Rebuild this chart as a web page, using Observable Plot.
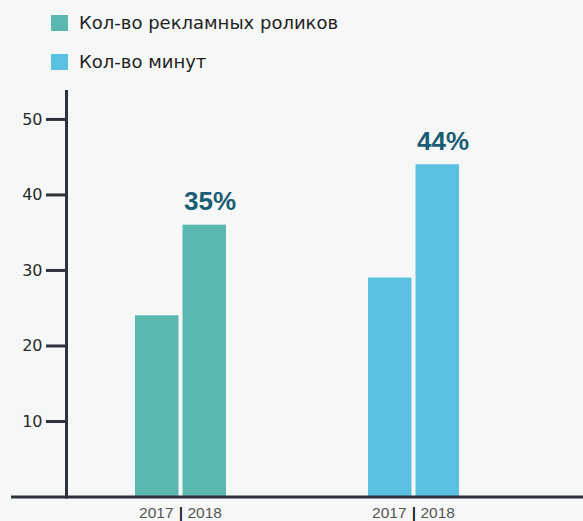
<!DOCTYPE html>
<html>
<head>
<meta charset="utf-8">
<script src="https://cdn.jsdelivr.net/npm/d3@7"></script>
<script src="https://cdn.jsdelivr.net/npm/@observablehq/plot@0.6"></script>
<style>
  html, body { margin: 0; padding: 0; background: #f6f8f7; width: 583px; height: 521px; overflow: hidden; }
  #legend { position: relative; height: 80px; font-family: "DejaVu Sans", sans-serif; font-size: 18px; color: #222; }
  .item { position: absolute; left: 51px; display: flex; align-items: center; }
  .sw { width: 17px; height: 16px; margin-right: 11px; }
  #chart svg { display: block; overflow: visible; }
</style>
</head>
<body>
<div id="legend"></div>
<div id="chart"></div>
<script>
const groups = ["Кол-во рекламных роликов", "Кол-во минут"];
const years = ["2017", "2018"];
const values2017 = [24, 29];
const values2018 = [36, 44];
const growthLabels = ["35%", "44%"];
const colors = ["#5bb8b1", "#5bc1e1"];
const yTicks = [10, 20, 30, 40, 50];

// legend
const legend = document.getElementById("legend");
groups.forEach((g, i) => {
  const it = document.createElement("div");
  it.className = "item";
  it.style.top = (i === 0 ? 12 : 51) + "px";
  const sw = document.createElement("div");
  sw.className = "sw";
  sw.style.background = colors[i];
  const tx = document.createElement("span");
  tx.textContent = g;
  it.appendChild(sw); it.appendChild(tx);
  legend.appendChild(it);
});

const rows = groups.map((g, i) => ({group: g, v2017: values2017[i], v2018: values2018[i], label: growthLabels[i]}));
const axisColor = "#2e3239";
const labelFont = "Liberation Sans, Arial, sans-serif";

const chart = Plot.plot({
  width: 583,
  height: 441,
  marginLeft: 66,
  marginRight: 54,
  marginTop: 11,
  marginBottom: 24.5,
  style: {background: "transparent", fontFamily: "DejaVu Sans, sans-serif"},
  x: {type: "band", domain: groups, paddingInner: 0.608, paddingOuter: 0.2955, axis: null},
  y: {domain: [0, 53.7], axis: null},
  color: {domain: groups, range: colors},
  marks: [
    Plot.barY(rows, {x: "group", y: "v2017", fill: "group", insetRight: 47.5}),
    Plot.barY(rows, {x: "group", y: "v2018", fill: "group", insetLeft: 47.5}),
    Plot.frame({anchor: "left", stroke: axisColor, strokeWidth: 3}),
    Plot.ruleY([0], {stroke: axisColor, strokeWidth: 3, insetLeft: -55, insetRight: -54}),
    Plot.axisY({ticks: yTicks, tickSize: 20, tickPadding: 4, fontSize: 16, strokeWidth: 3, stroke: axisColor, fill: "#2a2a2a"}),
    Plot.text(rows, {x: "group", y: "v2018", text: "label", dx: 29, dy: -15, lineAnchor: "bottom",
      fontSize: 26, fontWeight: "bold", fill: "#1b5d74", fontFamily: labelFont}),
    Plot.text(groups, {x: d => d, text: () => years[0], frameAnchor: "bottom", textAnchor: "end", dx: -7.5, dy: 21,
      lineAnchor: "bottom", fontSize: 15.5, fill: "#555", fontFamily: labelFont}),
    Plot.text(groups, {x: d => d, text: () => years[1], frameAnchor: "bottom", textAnchor: "start", dx: 6.5, dy: 21,
      lineAnchor: "bottom", fontSize: 15.5, fill: "#555", fontFamily: labelFont}),
    Plot.text(groups, {x: d => d, text: () => "|", frameAnchor: "bottom", dy: 21.5, lineAnchor: "bottom",
      fontSize: 16, fontWeight: "bold", fill: "#111"})
  ]
});
document.getElementById("chart").appendChild(chart);
</script>
</body>
</html>
